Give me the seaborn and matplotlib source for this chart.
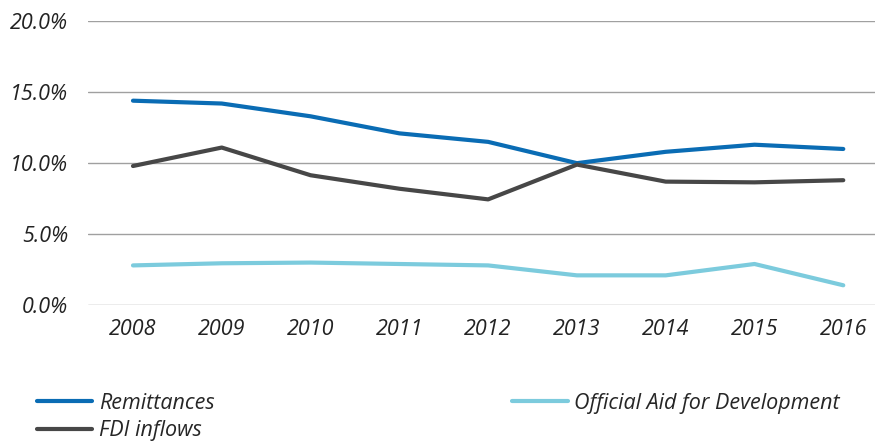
import pandas as pd
import matplotlib.pyplot as plt
import seaborn as sns

years = [2008, 2009, 2010, 2011, 2012, 2013, 2014, 2015, 2016]
remittances = [14.4, 14.2, 13.3, 12.1, 11.5, 10.0, 10.8, 11.3, 11.0]
fdi_inflows = [9.8, 11.1, 9.15, 8.2, 7.45, 9.9, 8.7, 8.65, 8.8]
official_aid = [2.8, 2.95, 3.0, 2.9, 2.8, 2.1, 2.1, 2.9, 1.4]

series_names = ['Remittances', 'FDI inflows', 'Official Aid for Development']
palette = {'Remittances': '#0a6cb4', 'FDI inflows': '#474747',
           'Official Aid for Development': '#7ccbdd'}

df = pd.DataFrame({'Year': years, 'Remittances': remittances,
                   'FDI inflows': fdi_inflows,
                   'Official Aid for Development': official_aid})
long_df = df.melt(id_vars='Year', var_name='Series', value_name='Share')

sns.set_style('white')
plt.rcParams['font.family'] = ['Open Sans', 'DejaVu Sans']

fig = plt.figure(figsize=(8.77, 4.41), dpi=100)
ax = fig.add_axes([0.1, 0.308, 0.898, 0.644])

sns.lineplot(data=long_df, x='Year', y='Share', hue='Series',
             hue_order=series_names, palette=palette, linewidth=3,
             ax=ax, legend=False)

ax.set_xlim(2007.49, 2016.36)
ax.set_ylim(0, 20)
ax.set_yticks([0, 5, 10, 15, 20])
ax.set_yticklabels([f'{v:.1f}%' for v in [0, 5, 10, 15, 20]])
ax.set_xticks(years)
ax.set_xticklabels([str(y) for y in years])
ax.grid(axis='y', color='#a0a0a0', linewidth=1)
ax.set_axisbelow(True)
for s in ax.spines.values():
    s.set_visible(False)
ax.tick_params(axis='both', length=0, labelsize=15.5, colors='#222222')
ax.tick_params(axis='y', pad=14)
ax.tick_params(axis='x', pad=10)
for lbl in ax.get_xticklabels() + ax.get_yticklabels():
    lbl.set_fontstyle('italic')
ax.set_xlabel('')
ax.set_ylabel('')

handles = [plt.Line2D([], [], color=palette[n], linewidth=3) for n in series_names]
fig.legend(handles, series_names, loc='lower left', bbox_to_anchor=(0.022, -0.04),
           ncol=2, frameon=False, handlelength=2.6, handletextpad=0.3,
           columnspacing=13.8, labelspacing=0.3, borderpad=0.3,
           prop={'size': 15.5, 'style': 'italic'})

fig.savefig('out.png', dpi=100)
